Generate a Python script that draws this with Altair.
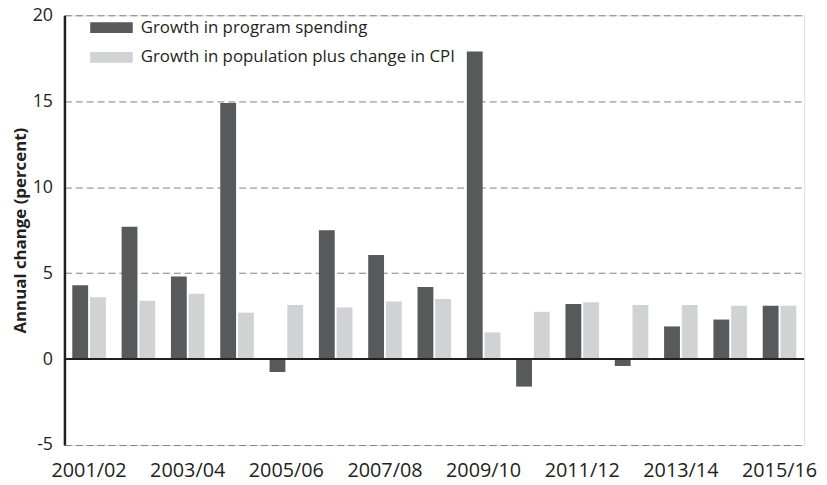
import altair as alt
import pandas as pd

years = ["2001/02", "2002/03", "2003/04", "2004/05", "2005/06", "2006/07", "2007/08",
         "2008/09", "2009/10", "2010/11", "2011/12", "2012/13", "2013/14", "2014/15", "2015/16"]
spending = [4.3, 7.7, 4.8, 14.9, -0.75, 7.5, 6.05, 4.2, 17.9, -1.6, 3.2, -0.4, 1.9, 2.3, 3.1]
pop_cpi = [3.6, 3.4, 3.8, 2.7, 3.15, 3.0, 3.35, 3.5, 1.55, 2.75, 3.3, 3.15, 3.15, 3.1, 3.1]
series = ["Growth in program spending", "Growth in population plus change in CPI"]
colors = ["#58595b", "#d1d2d4"]
tick_labels = years[::2]

rows = []
for y, a, b in zip(years, spending, pop_cpi):
    rows.append({"year": y, "series": series[0], "value": a})
    rows.append({"year": y, "series": series[1], "value": b})
df = pd.DataFrame(rows)

FONT = "Open Sans"

bars = alt.Chart(df).mark_bar(size=16).encode(
    x=alt.X("year:N", sort=years,
            scale=alt.Scale(paddingInner=0.321, paddingOuter=0.16),
            axis=alt.Axis(title=None, values=tick_labels, labelAngle=0, domain=False,
                          ticks=False, labelFontSize=20, labelFont=FONT,
                          labelColor="#231f20", labelPadding=16)),
    xOffset=alt.XOffset("series:N", sort=series,
                        scale=alt.Scale(paddingInner=0.111, paddingOuter=0)),
    y=alt.Y("value:Q", scale=alt.Scale(domain=[-5, 20], nice=False, zero=False),
            axis=alt.Axis(title="Annual change (percent)", values=[-5, 0, 5, 10, 15, 20],
                          labelExpr="'' + datum.value",
                          domainColor="#231f20", domainWidth=2.5, ticks=False,
                          grid=True, gridDash=[7, 4], gridColor="#7f7f7f", gridWidth=1,
                          labelFontSize=18, labelFont=FONT, labelColor="#231f20",
                          labelPadding=12, titleFont=FONT, titleFontSize=17,
                          titleFontWeight="bold", titleColor="#231f20", titlePadding=3)),
    color=alt.Color("series:N", sort=series,
                    scale=alt.Scale(domain=series, range=colors),
                    legend=alt.Legend(title=None, orient="none", legendX=26, legendY=-9,
                                      symbolType="M-1,-0.25H1V0.25H-1Z", symbolSize=1849,
                                      symbolStrokeWidth=0, symbolOpacity=1,
                                      labelFont=FONT, labelFontSize=17, labelColor="#231f20",
                                      labelLimit=0, labelOffset=8, rowPadding=-1, padding=0)),
)

zero = alt.Chart(pd.DataFrame({"v": [0]})).mark_rule(color="#231f20", strokeWidth=2).encode(
    y="v:Q"
)

chart = alt.layer(bars, zero).properties(
    width=747, height=434,
    autosize=alt.AutoSizeParams(type="none"),
    padding={"left": 57, "top": 5, "right": 15, "bottom": 38},
).configure_view(stroke=None).configure(background="white")

chart.save("out.html", embed_options={"renderer": "svg", "actions": False})
